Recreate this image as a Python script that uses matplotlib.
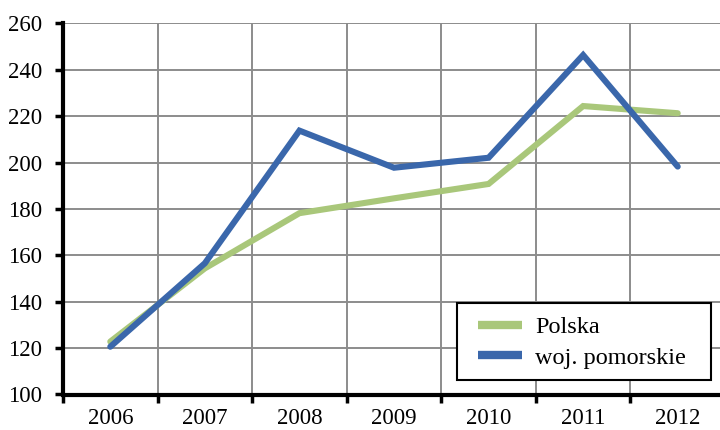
import matplotlib
matplotlib.use("Agg")
import matplotlib.pyplot as plt
from matplotlib.patches import Rectangle
from matplotlib.ticker import FixedLocator

years = ["2006", "2007", "2008", "2009", "2010", "2011", "2012"]
polska = [122.8, 154.4, 178.2, 184.6, 190.8, 224.4, 221.3]
pomorskie = [120.6, 156.6, 213.8, 197.8, 202.1, 246.4, 198.3]
y_ticks = [100, 120, 140, 160, 180, 200, 220, 240, 260]

plt.rcParams["font.family"] = ["Liberation Serif", "DejaVu Serif"]

W, H = 720, 430
fig = plt.figure(figsize=(W / 100, H / 100), dpi=100)

# axes box in pixel terms: left edge 63, right edge 725 (runs past the canvas), top 23.5, bottom 394.5
ax = fig.add_axes([63 / W, (H - 394.5) / H, 662 / W, 371 / H])

x = list(range(len(years)))
green = "#A9C77A"
blue = "#3A67AB"
ax.plot(x, polska, color=green, lw=4.4, solid_capstyle="round", solid_joinstyle="miter", label="Polska", zorder=3)
ax.plot(x, pomorskie, color=blue, lw=4.4, solid_capstyle="round", solid_joinstyle="miter", label="woj. pomorskie", zorder=4)

ax.set_xlim(-0.5, len(years) - 0.5)
ax.set_ylim(100, 260)

ax.set_yticks(y_ticks)
ax.set_yticklabels([str(v) for v in y_ticks])
ax.set_xticks(x)
ax.set_xticklabels(years)
ax.xaxis.set_minor_locator(FixedLocator([i + 0.5 for i in range(-1, len(years))]))

ax.tick_params(axis="x", which="major", length=0, pad=10, labelsize=16.5)
ax.tick_params(axis="x", which="minor", length=6, width=2.5, direction="out", color="black")
ax.tick_params(axis="y", which="major", length=6, width=2.5, direction="out", pad=9, labelsize=16.5)

ax.grid(True, axis="y", which="major", color="#8C8C8C", lw=1.4, zorder=0)
ax.grid(True, axis="x", which="minor", color="#8C8C8C", lw=1.4, zorder=0)
ax.set_axisbelow(True)

for side in ("top", "right"):
    ax.spines[side].set_visible(False)
for side in ("left", "bottom"):
    ax.spines[side].set_linewidth(3)
    ax.spines[side].set_color("black")

# legend frame drawn separately so the entries can sit inset within it
frame = Rectangle((457 / W, 1 - 380 / H), 254 / W, 77 / H, transform=fig.transFigure,
                  facecolor="white", edgecolor="black", lw=1.5, zorder=5, clip_on=False)
ax.add_patch(frame)

leg = ax.legend(loc="upper left", bbox_to_anchor=(478 / W, 1 - 316 / H), bbox_transform=fig.transFigure,
                fontsize=17.5, frameon=False, handlelength=1.8, handletextpad=0.56,
                labelspacing=0.36, borderpad=0, borderaxespad=0)
leg.set_zorder(6)
for line in leg.get_lines():
    line.set_linewidth(6)
    line.set_solid_capstyle("butt")

fig.savefig("out.png", dpi=100)
